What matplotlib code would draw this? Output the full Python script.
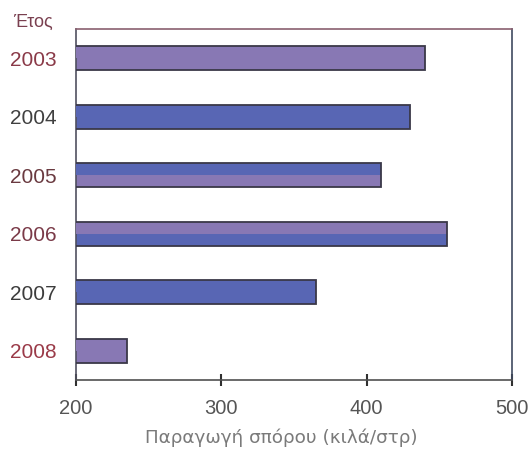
import matplotlib.pyplot as plt

years = ["2003", "2004", "2005", "2006", "2007", "2008"]
production = [440, 430, 410, 455, 365, 235]

purple = "#8878b4"
blue = "#5866b4"
# scanned bars show two tones; upper / lower half colours per bar
upper_colors = [purple, blue, blue, purple, blue, purple]
lower_colors = [purple, blue, purple, blue, blue, purple]
label_colors = ["#8a3a48", "#404040", "#6a3a40", "#7a3a48", "#3c3c3c", "#9a3a48"]

plt.rcParams["font.family"] = ["Liberation Sans", "DejaVu Sans"]

fig = plt.figure(figsize=(5.32, 4.5), dpi=100)
ax = fig.add_axes([0.1429, 0.1556, 0.8195, 0.78])

pos = list(range(len(years)))
h = 0.41
ax.barh(pos, production, height=h, color=lower_colors, edgecolor="none", zorder=2)
ax.barh([p - h / 4 for p in pos], production, height=h / 2, color=upper_colors,
        edgecolor="none", zorder=3)
ax.barh(pos, production, height=h, facecolor="none", edgecolor="#3a3848",
        linewidth=1.3, zorder=4)

ax.set_xlim(200, 500)
ax.set_ylim(5.5, -0.5)
ax.set_xticks([200, 300, 400, 500])
ax.set_yticks(pos)
ax.set_yticklabels(years, fontsize=15)
for lbl, c in zip(ax.get_yticklabels(), label_colors):
    lbl.set_color(c)
ax.tick_params(axis="y", length=0, pad=14)
ax.tick_params(axis="x", direction="inout", length=8, width=1.5, colors="#303030",
               labelsize=14.5, labelcolor="#555555", pad=10)

for side in ["left", "right", "top", "bottom"]:
    ax.spines[side].set_linewidth(1.2)
ax.spines["left"].set_color("#505060")
ax.spines["bottom"].set_color("#505050")
ax.spines["top"].set_color("#8a6070")
ax.spines["right"].set_color("#404a60")

ax.set_xlabel("Παραγωγή σπόρου (κιλά/στρ)", fontsize=13.2, color="#7a7a7a",
              family=["DejaVu Sans"], labelpad=7)
ax.xaxis.label.set_x(0.47)
fig.text(0.025, 0.95, "Έτος", fontsize=13, color="#7a4050", ha="left", va="center")

fig.savefig("out.png", dpi=100)
